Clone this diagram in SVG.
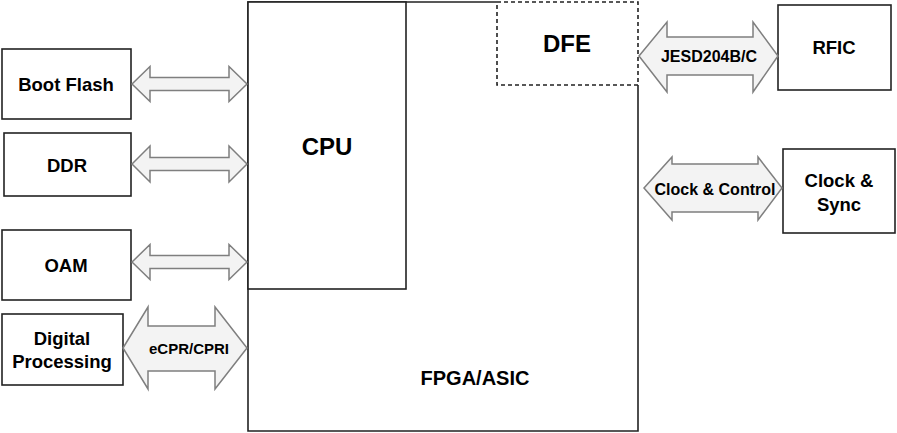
<svg xmlns="http://www.w3.org/2000/svg" width="897" height="433" viewBox="0 0 897 433">
<style>
.box{fill:#fff;stroke:#222;stroke-width:1.6}
.dash{fill:#fff;stroke:#222;stroke-width:1.6;stroke-dasharray:4 3}
.arr{fill:#f3f3f3;stroke:#7f7f7f;stroke-width:1.5;stroke-linejoin:miter}
text{font-family:"Liberation Sans",Arial,sans-serif;font-weight:bold;fill:#000;text-anchor:middle}
.t19{font-size:18.5px}
.t16{font-size:16px}
.t15{font-size:15px}
</style>
<rect width="897" height="433" fill="#fff"/>
<g id="fpga">
<path class="box" fill="#fff" d="M497,2 H248 V431 H638 V85"/>
<text x="475" y="385" style="font-size:20px">FPGA/ASIC</text>
</g>
<g id="cpu">
<rect class="box" x="248" y="2" width="158" height="287"/>
<text x="327" y="155" style="font-size:24px">CPU</text>
</g>
<g id="dfe">
<rect class="dash" x="497" y="2" width="141" height="83"/>
<text x="567" y="52" style="font-size:24px">DFE</text>
</g>
<g id="bootflash">
<rect class="box" x="2" y="49" width="129" height="70"/>
<text class="t19" x="66" y="91">Boot Flash</text>
</g>
<g id="ddr">
<rect class="box" x="4" y="133" width="127" height="63"/>
<text class="t19" x="67" y="172">DDR</text>
</g>
<g id="oam">
<rect class="box" x="2" y="230" width="129" height="70"/>
<text class="t19" x="66" y="272">OAM</text>
</g>
<g id="digital">
<rect class="box" x="2" y="314" width="121" height="71"/>
<text class="t19" x="62" y="345">Digital</text>
<text class="t19" x="62" y="368">Processing</text>
</g>
<g id="rfic">
<rect class="box" x="778" y="5" width="113" height="85"/>
<text class="t19" x="834" y="54">RFIC</text>
</g>
<g id="clocksync">
<rect class="box" x="783" y="149" width="112" height="84"/>
<text class="t19" x="839" y="187">Clock &amp;</text>
<text class="t19" x="839" y="211">Sync</text>
</g>
<g id="connectors">
<polygon class="arr" points="132,84 150,66.5 150,77.5 229,77.5 229,66.5 247,84 229,101.5 229,90.5 150,90.5 150,101.5"/>
<polygon class="arr" points="132,164 150,146 150,157.5 229,157.5 229,146 247,164 229,182 229,170.5 150,170.5 150,182"/>
<polygon class="arr" points="132,262 150,244.5 150,255.5 229,255.5 229,244.5 247,262 229,279.5 229,268.5 150,268.5 150,279.5"/>
<polygon class="arr" points="123,348 148,307 148,326 215,326 215,307 247,348 215,389 215,371 148,371 148,389"/>
<text class="t15" x="189" y="354">eCPR/CPRI</text>
<polygon class="arr" points="639,56 667,22 667,37 753,37 753,22 778,56 753,92 753,75 667,75 667,92"/>
<text class="t16" x="709" y="62">JESD204B/C</text>
<polygon class="arr" points="644,188 672,157 672,164 758,164 758,157 782,188 758,220 758,212 672,212 672,220"/>
<text class="t16" x="715" y="195">Clock &amp; Control</text>
</g>
</svg>
